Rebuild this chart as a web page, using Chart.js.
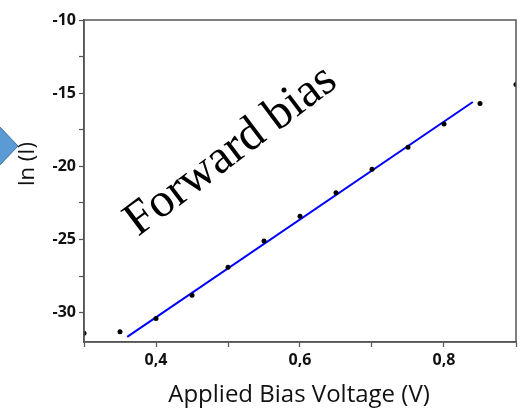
<!DOCTYPE html>
<html>
<head>
<meta charset="utf-8">
<script src="https://cdn.jsdelivr.net/npm/chart.js@4/dist/chart.umd.min.js"></script>
<style>
  html, body { margin: 0; padding: 0; background: #fff; }
  #wrap { width: 520px; height: 418px; }
</style>
</head>
<body>
<div id="wrap"><canvas id="chart" width="520" height="418"></canvas></div>
<script>
// measured points, ln(I) vs applied voltage
const voltage = [0.30, 0.35, 0.40, 0.45, 0.50, 0.55, 0.60, 0.65, 0.70, 0.75, 0.80, 0.85, 0.90];
const lnCurrent = [-31.4, -31.3, -30.4, -28.8, -26.9, -25.1, -23.4, -21.8, -20.2, -18.7, -17.1, -15.7, -14.4];

// linear fit, end points
const fitVoltage = [0.36, 0.84];
const fitLn = [-31.65, -15.6];

const xTicks = [0.3, 0.4, 0.5, 0.6, 0.7, 0.8, 0.9];
const xLabels = ['', '0,4', '', '0,6', '', '0,8', ''];
const yTicks = [-30, -27.5, -25, -22.5, -20, -17.5, -15, -12.5, -10];
const yLabels = ['-30', '', '-25', '', '-20', '', '-15', '', '-10'];

const tickFont = { family: 'Open Sans', size: 16, weight: 'bold' };

// frame, arrow and text that are not part of the axes
const extras = {
    id: 'extras',
    afterDraw(chart) {
        const ctx = chart.ctx;
        const a = chart.chartArea;
        ctx.save();

        ctx.strokeStyle = '#555';
        ctx.lineWidth = 1.5;
        ctx.strokeRect(a.left, a.top, a.right - a.left, a.bottom - a.top);

        // blue arrow tip sticking in from the left
        ctx.beginPath();
        ctx.moveTo(-2, 125);
        ctx.lineTo(18, 146);
        ctx.lineTo(-2, 167);
        ctx.closePath();
        ctx.fillStyle = '#5b9bd5';
        ctx.fill();
        ctx.strokeStyle = '#41719c';
        ctx.lineWidth = 1;
        ctx.stroke();

        ctx.fillStyle = '#111';
        ctx.textAlign = 'center';
        ctx.textBaseline = 'middle';

        ctx.font = '24px "Open Sans"';
        ctx.fillText('Applied Bias Voltage (V)', 299, 395);

        ctx.save();
        ctx.translate(28, 164);
        ctx.rotate(-Math.PI / 2);
        ctx.font = '22px "Open Sans"';
        ctx.fillText('ln (I)', 0, 0);
        ctx.restore();

        ctx.save();
        ctx.translate(231, 151);
        ctx.rotate(-37 * Math.PI / 180);
        ctx.font = '48px "Liberation Serif"';
        ctx.fillStyle = '#000';
        ctx.fillText('Forward bias', 0, 0);
        ctx.restore();

        ctx.restore();
    }
};

new Chart(document.getElementById('chart'), {
    type: 'scatter',
    data: {
        datasets: [
            {
                label: 'data',
                data: voltage.map((v, i) => ({ x: v, y: lnCurrent[i] })),
                pointRadius: 2.5,
                pointBackgroundColor: '#000',
                pointBorderWidth: 0,
                showLine: false,
            },
            {
                label: 'fit',
                data: fitVoltage.map((v, i) => ({ x: v, y: fitLn[i] })),
                showLine: true,
                borderColor: '#0000ff',
                borderWidth: 2,
                pointRadius: 0,
            },
        ],
    },
    options: {
        responsive: false,
        animation: false,
        layout: { padding: { top: 20, right: 3, left: 0, bottom: 0 } },
        plugins: {
            legend: { display: false },
            tooltip: { enabled: false },
        },
        scales: {
            x: {
                type: 'linear',
                min: 0.3,
                max: 0.9,
                afterFit: (s) => { s.height = 76; },
                afterBuildTicks: (s) => { s.ticks = xTicks.map(v => ({ value: v })); },
                grid: { drawOnChartArea: false, tickLength: 5, tickColor: '#555', tickWidth: 1.2 },
                border: { color: '#555', width: 1.5 },
                ticks: {
                    color: '#111',
                    font: tickFont,
                    padding: 4,
                    maxRotation: 0,
                    autoSkip: false,
                    callback: (v, i) => xLabels[i],
                },
            },
            y: {
                min: -32,
                max: -10,
                afterFit: (s) => { s.width = 84; },
                afterBuildTicks: (s) => { s.ticks = yTicks.map(v => ({ value: v })); },
                grid: { drawOnChartArea: false, tickLength: 5, tickColor: '#555', tickWidth: 1.2 },
                border: { color: '#555', width: 1.5 },
                ticks: {
                    color: '#111',
                    font: tickFont,
                    padding: 3,
                    autoSkip: false,
                    callback: (v, i) => yLabels[i],
                },
            },
        },
    },
    plugins: [extras],
});
</script>
</body>
</html>
